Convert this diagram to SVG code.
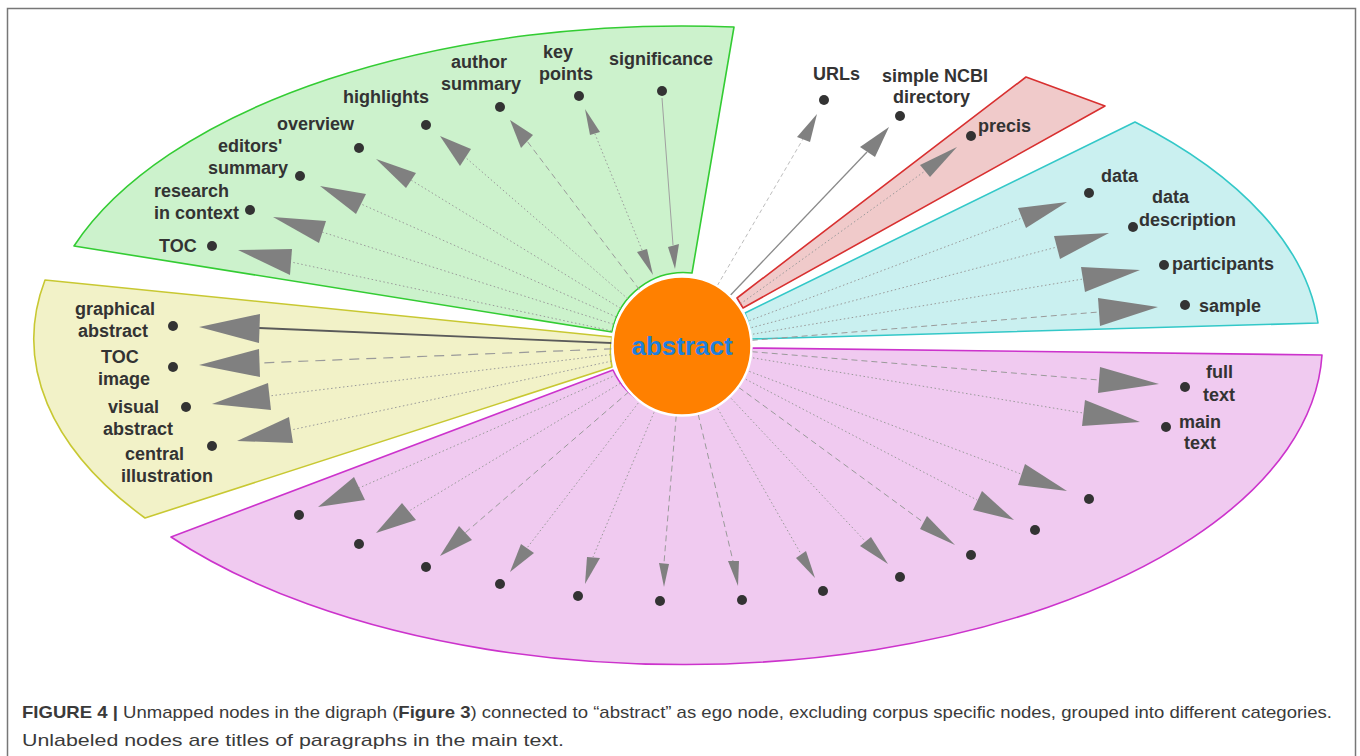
<svg xmlns="http://www.w3.org/2000/svg" width="1360" height="756" viewBox="0 0 1360 756">
<style>
.lbl{font-family:"Liberation Sans",Arial,sans-serif;font-size:18px;font-weight:bold;fill:#333}
.cap{font-family:"Liberation Sans",Arial,sans-serif;font-size:17px;fill:#3a3a3a}
.dot{fill:#333}
.e{stroke:#9a9a9a;stroke-width:1;fill:none;stroke-dasharray:1.5 2.5}
.d{stroke-dasharray:6 4}
.ah{fill:#808080}
.w{stroke-width:1.6;stroke-linejoin:round}
</style>
<rect x="7.5" y="8.5" width="1348" height="800" fill="#fff" stroke="#777" stroke-width="1.5"/>
<g id="groups">
<path class="w" fill="#ccf2cc" stroke="#33cc33" d="M612,332 L74,246 A640 320 0 0 1 734,27 L692,273 A73 73 0 0 0 612,332 Z"/>
<path class="w" fill="#f2f2c8" stroke="#c8c832" d="M612,337 L45,280 A650 320 0 0 0 145,518 L612,367 A73 73 0 0 1 612,337 Z"/>
<path class="w" fill="#f0caf0" stroke="#cc33cc" d="M613,370 L171,537 A640 320 0 0 0 1322,355 L752,348 A73 73 0 0 1 613,370 Z"/>
<path class="w" fill="#caf0f0" stroke="#33c8c8" d="M745,313 L1135,122 A640 320 0 0 1 1318,323 L751,339 A73 73 0 0 0 745,313 Z"/>
<path class="w" fill="#f0caca" stroke="#d83030" d="M737,298 L1026,77 L1105,106 L743,308 Z"/>
</g>
<g id="connectors">
<line class="e" x1="682" y1="346" x2="291" y2="262"/>
<line class="e" x1="682" y1="346" x2="322" y2="232"/>
<line class="e" x1="682" y1="346" x2="361" y2="204"/>
<line class="e" x1="682" y1="346" x2="411" y2="180"/>
<line class="e" x1="682" y1="346" x2="465" y2="157"/>
<line class="e d" x1="682" y1="346" x2="527" y2="141"/>
<line class="e" x1="642" y1="250" x2="595" y2="134"/>
<line class="e" style="stroke-dasharray:none;stroke:#a0a0a0" x1="662" y1="98" x2="673" y2="245"/>
<line class="e" style="stroke-dasharray:4 3;stroke:#bdbdbd" x1="682" y1="346" x2="803" y2="139"/>
<line class="e" style="stroke-dasharray:none;stroke:#8a8a8a;stroke-width:1.3" x1="682" y1="346" x2="867" y2="152"/>
<line class="e" x1="682" y1="346" x2="925" y2="171"/>
<line class="e" x1="682" y1="346" x2="1022" y2="218"/>
<line class="e" x1="682" y1="346" x2="1057" y2="247"/>
<line class="e" x1="682" y1="346" x2="1083" y2="279"/>
<line class="e d" x1="682" y1="346" x2="1099" y2="312"/>
<line class="e d" x1="682" y1="346" x2="1099" y2="380"/>
<line class="e" x1="682" y1="346" x2="1083" y2="413"/>
<line class="e" x1="682" y1="346" x2="1021" y2="474"/>
<line class="e" x1="682" y1="346" x2="977" y2="500"/>
<line class="e d" x1="682" y1="346" x2="923" y2="522"/>
<line class="e" x1="682" y1="346" x2="865" y2="541"/>
<line class="e" x1="682" y1="346" x2="801" y2="554"/>
<line class="e d" x1="682" y1="346" x2="733" y2="561"/>
<line class="e d" x1="682" y1="346" x2="664" y2="563"/>
<line class="e" x1="682" y1="346" x2="593" y2="557"/>
<line class="e" x1="682" y1="346" x2="527" y2="548"/>
<line class="e d" x1="682" y1="346" x2="465" y2="533"/>
<line class="e" x1="682" y1="346" x2="409" y2="511"/>
<line class="e" x1="682" y1="346" x2="359" y2="488"/>
<line class="e" style="stroke-dasharray:none;stroke:#5a5a5a;stroke-width:1.8" x1="682" y1="346" x2="259" y2="328"/>
<line class="e" style="stroke-dasharray:10 7;stroke-width:1.2" x1="682" y1="346" x2="259" y2="363"/>
<line class="e" x1="682" y1="346" x2="269" y2="396"/>
<line class="e" x1="682" y1="346" x2="291" y2="430"/>
<polygon class="ah" points="238,250 292,249 290,275"/>
<polygon class="ah" points="273,217 326,221 319,243"/>
<polygon class="ah" points="320,186 366,194 356,214"/>
<polygon class="ah" points="376,159 416,173 406,188"/>
<polygon class="ah" points="440,136 471,149 460,166"/>
<polygon class="ah" points="510,120 533,135 521,148"/>
<polygon class="ah" points="585,109 600,132 590,135"/>
<polygon class="ah" points="653,275 637,252 647,249"/>
<polygon class="ah" points="675,269 668,247 679,244"/>
<polygon class="ah" points="817,114 797,137 810,142"/>
<polygon class="ah" points="889,127 860,147 875,157"/>
<polygon class="ah" points="957,147 920,165 930,177"/>
<polygon class="ah" points="1067,202 1018,208 1026,228"/>
<polygon class="ah" points="1109,233 1054,236 1060,259"/>
<polygon class="ah" points="1140,270 1081,267 1085,292"/>
<polygon class="ah" points="1158,307 1098,298 1100,326"/>
<polygon class="ah" points="1159,384 1100,367 1098,393"/>
<polygon class="ah" points="1140,422 1085,400 1082,426"/>
<polygon class="ah" points="1067,491 1025,464 1018,485"/>
<polygon class="ah" points="1014,520 982,491 973,510"/>
<polygon class="ah" points="955,545 927,516 920,529"/>
<polygon class="ah" points="888,564 871,537 860,546"/>
<polygon class="ah" points="815,578 806,551 796,558"/>
<polygon class="ah" points="738,586 728,561 739,561"/>
<polygon class="ah" points="664,587 659,563 669,564"/>
<polygon class="ah" points="585,584 587,557 600,558"/>
<polygon class="ah" points="510,572 521,544 534,553"/>
<polygon class="ah" points="440,556 459,526 472,540"/>
<polygon class="ah" points="376,533 402,503 416,520"/>
<polygon class="ah" points="318,507 354,477 365,500"/>
<polygon class="ah" points="199,327 260,314 259,343"/>
<polygon class="ah" points="199,365 259,349 260,377"/>
<polygon class="ah" points="212,404 268,383 271,410"/>
<polygon class="ah" points="237,441 289,417 293,443"/>
</g>
<g id="n-abstract">
<circle cx="682" cy="346" r="69.5" fill="#ff8000" stroke="#fff" stroke-width="2.5"/>
<text x="682" y="355" text-anchor="middle" style="font-family:'Liberation Sans',Arial,sans-serif;font-size:26px;font-weight:bold;fill:#1f80dc">abstract</text>
</g>
<g id="n-toc"><circle class="dot" cx="212" cy="246" r="5"/><text class="lbl" x="159" y="252">TOC</text></g>
<g id="n-research"><circle class="dot" cx="250" cy="210" r="5"/><text class="lbl" x="154" y="197">research</text><text class="lbl" x="154" y="219">in context</text></g>
<g id="n-editors"><circle class="dot" cx="300" cy="176" r="5"/><text class="lbl" x="218" y="152">editors'</text><text class="lbl" x="208" y="174">summary</text></g>
<g id="n-overview"><circle class="dot" cx="359" cy="148" r="5"/><text class="lbl" x="277" y="130">overview</text></g>
<g id="n-highlights"><circle class="dot" cx="426" cy="125" r="5"/><text class="lbl" x="343" y="103">highlights</text></g>
<g id="n-author"><circle class="dot" cx="500" cy="107" r="5"/><text class="lbl" x="451" y="68">author</text><text class="lbl" x="441" y="90">summary</text></g>
<g id="n-keypoints"><circle class="dot" cx="579" cy="96" r="5"/><text class="lbl" x="543" y="58">key</text><text class="lbl" x="539" y="80">points</text></g>
<g id="n-significance"><circle class="dot" cx="662" cy="91" r="5"/><text class="lbl" x="609" y="65">significance</text></g>
<g id="n-urls"><circle class="dot" cx="824" cy="100" r="5"/><text class="lbl" x="813" y="80">URLs</text></g>
<g id="n-ncbi"><circle class="dot" cx="900" cy="116" r="5"/><text class="lbl" x="882" y="82">simple NCBI</text><text class="lbl" x="893" y="103">directory</text></g>
<g id="n-precis"><circle class="dot" cx="971" cy="136" r="5"/><text class="lbl" x="978" y="132">precis</text></g>
<g id="n-data"><circle class="dot" cx="1089" cy="193" r="5"/><text class="lbl" x="1101" y="182">data</text></g>
<g id="n-datadesc"><circle class="dot" cx="1133" cy="227" r="5"/><text class="lbl" x="1152" y="203">data</text><text class="lbl" x="1139" y="226">description</text></g>
<g id="n-participants"><circle class="dot" cx="1164" cy="265" r="5"/><text class="lbl" x="1172" y="270">participants</text></g>
<g id="n-sample"><circle class="dot" cx="1185" cy="305" r="5"/><text class="lbl" x="1199" y="312">sample</text></g>
<g id="n-fulltext"><circle class="dot" cx="1185" cy="387" r="5"/><text class="lbl" x="1206" y="378">full</text><text class="lbl" x="1203" y="401">text</text></g>
<g id="n-maintext"><circle class="dot" cx="1166" cy="427" r="5"/><text class="lbl" x="1179" y="428">main</text><text class="lbl" x="1184" y="449">text</text></g>
<g id="n-p1"><circle class="dot" cx="1089" cy="499" r="5"/></g>
<g id="n-p2"><circle class="dot" cx="1035" cy="530" r="5"/></g>
<g id="n-p3"><circle class="dot" cx="971" cy="555" r="5"/></g>
<g id="n-p4"><circle class="dot" cx="900" cy="577" r="5"/></g>
<g id="n-p5"><circle class="dot" cx="823" cy="591" r="5"/></g>
<g id="n-p6"><circle class="dot" cx="742" cy="600" r="5"/></g>
<g id="n-p7"><circle class="dot" cx="660" cy="601" r="5"/></g>
<g id="n-p8"><circle class="dot" cx="578" cy="596" r="5"/></g>
<g id="n-p9"><circle class="dot" cx="500" cy="584" r="5"/></g>
<g id="n-p10"><circle class="dot" cx="426" cy="567" r="5"/></g>
<g id="n-p11"><circle class="dot" cx="359" cy="544" r="5"/></g>
<g id="n-p12"><circle class="dot" cx="299" cy="515" r="5"/></g>
<g id="n-graphical"><circle class="dot" cx="173" cy="326" r="5"/><text class="lbl" x="75" y="315">graphical</text><text class="lbl" x="78" y="337">abstract</text></g>
<g id="n-tocimage"><circle class="dot" cx="173" cy="367" r="5"/><text class="lbl" x="101" y="363">TOC</text><text class="lbl" x="98" y="385">image</text></g>
<g id="n-visual"><circle class="dot" cx="186" cy="407" r="5"/><text class="lbl" x="108" y="413">visual</text><text class="lbl" x="103" y="435">abstract</text></g>
<g id="n-central"><circle class="dot" cx="212" cy="446" r="5"/><text class="lbl" x="125" y="460">central</text><text class="lbl" x="121" y="482">illustration</text></g>
<g id="caption">
<text class="cap" x="22" y="718" textLength="1310" lengthAdjust="spacingAndGlyphs"><tspan font-weight="bold">FIGURE 4 |</tspan> Unmapped nodes in the digraph (<tspan font-weight="bold">Figure 3</tspan>) connected to “abstract” as ego node, excluding corpus specific nodes, grouped into different categories.</text>
<text class="cap" x="22" y="746" textLength="542" lengthAdjust="spacingAndGlyphs">Unlabeled nodes are titles of paragraphs in the main text.</text>
</g>
</svg>
